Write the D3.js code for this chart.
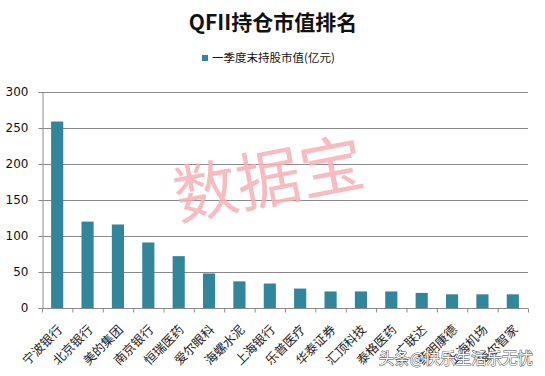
<!DOCTYPE html>
<html>
<head>
<meta charset="utf-8">
<script src="https://cdn.jsdelivr.net/npm/d3@7"></script>
<style>
  body { margin: 0; background: #fff; }
  svg { display: block; font-family: "Noto Sans CJK SC", "DejaVu Sans", sans-serif; }
</style>
</head>
<body>
<svg id="chart" width="545" height="376"></svg>
<script>
// === Datos ===
const companies = ['宁波银行', '北京银行', '美的集团', '南京银行', '恒瑞医药', '爱尔眼科', '海螺水泥', '上海银行',
  '乐普医疗', '华泰证券', '汇顶科技', '泰格医药', '广联达', '药明康德', '上海机场', '海尔智家'];
const values = [259, 120, 116, 91, 72, 48, 37, 34, 27, 23, 23, 23, 21, 19, 19, 19];
const yTicks = [0, 50, 100, 150, 200, 250, 300];
const seriesName = '一季度末持股市值(亿元)';
const title = 'QFII持仓市值排名';

const svg = d3.select('#chart');
const m = { left: 42, right: 17, top: 92, bottom: 68 };
const W = 545, H = 376;
const barColor = '#31869b';

// === Escalas ===
const x = d3.scaleBand().domain(companies).range([m.left, W - m.right]).paddingInner(0.6).paddingOuter(0.3);
const y = d3.scaleLinear().domain([0, 300]).range([H - m.bottom, m.top]);

// título + leyenda
svg.append('text').attr('x', 273).attr('y', 30).attr('text-anchor', 'middle')
  .attr('font-size', 21).attr('font-weight', 'bold').attr('fill', '#111').text(title);
svg.append('rect').attr('x', 202).attr('y', 55).attr('width', 6).attr('height', 6).attr('fill', barColor);
svg.append('text').attr('x', 212).attr('y', 62).attr('font-size', 11.5).attr('fill', '#111').text(seriesName);

// grid
svg.append('g').selectAll('line').data(yTicks.filter(d => d > 0)).join('line')
  .attr('x1', m.left).attr('x2', W - m.right)
  .attr('y1', d => y(d) + 0.5).attr('y2', d => y(d) + 0.5)
  .attr('stroke', '#8a8a8a').attr('stroke-width', 1);

// watermark
svg.append('text').attr('transform', 'translate(273,202) rotate(-11)')
  .attr('text-anchor', 'middle').attr('font-size', 64).attr('fill', '#f7b0b6').attr('opacity', 0.85)
  .text('数据宝');

// bars
svg.append('g').selectAll('rect').data(values).join('rect')
  .attr('x', (d, i) => x(companies[i]))
  .attr('width', x.bandwidth())
  .attr('y', d => y(d))
  .attr('height', d => y(0) - y(d))
  .attr('fill', barColor);

// y axis
const yAxis = svg.append('g').attr('transform', `translate(${m.left + 0.5},0)`)
  .call(d3.axisLeft(y).tickValues(yTicks).tickSize(4).tickPadding(10));
yAxis.select('.domain').attr('stroke', '#8a8a8a');
yAxis.selectAll('.tick line').attr('stroke', '#8a8a8a');
yAxis.selectAll('.tick text').attr('font-size', 12).attr('fill', '#111')
  .attr('font-family', 'Verdana, "DejaVu Sans", sans-serif');

// x axis
const xg = svg.append('g').attr('transform', `translate(0,${y(0) + 0.5})`);
xg.append('line').attr('x1', m.left).attr('x2', W - m.right).attr('stroke', '#8a8a8a');
xg.selectAll('line.tk').data(d3.range(companies.length + 1)).join('line')
  .attr('class', 'tk')
  .attr('x1', i => m.left + i * (W - m.right - m.left) / companies.length + 0.5)
  .attr('x2', i => m.left + i * (W - m.right - m.left) / companies.length + 0.5)
  .attr('y1', 0).attr('y2', 4).attr('stroke', '#8a8a8a');
xg.selectAll('text').data(companies).join('text')
  .attr('transform', d => `translate(${x(d) + x.bandwidth() / 2 + 6},22) rotate(-45)`)
  .attr('text-anchor', 'end').attr('font-size', 12.5).attr('fill', '#222')
  .text(d => d);

// marca de agua inferior
svg.append('text').attr('x', 533).attr('y', 364).attr('text-anchor', 'end')
  .attr('font-size', 15.5).attr('fill', '#fff').attr('stroke', '#444').attr('stroke-width', 0.9)
  .attr('paint-order', 'stroke').text('头条@快乐生活乐无忧');
</script>
</body>
</html>
